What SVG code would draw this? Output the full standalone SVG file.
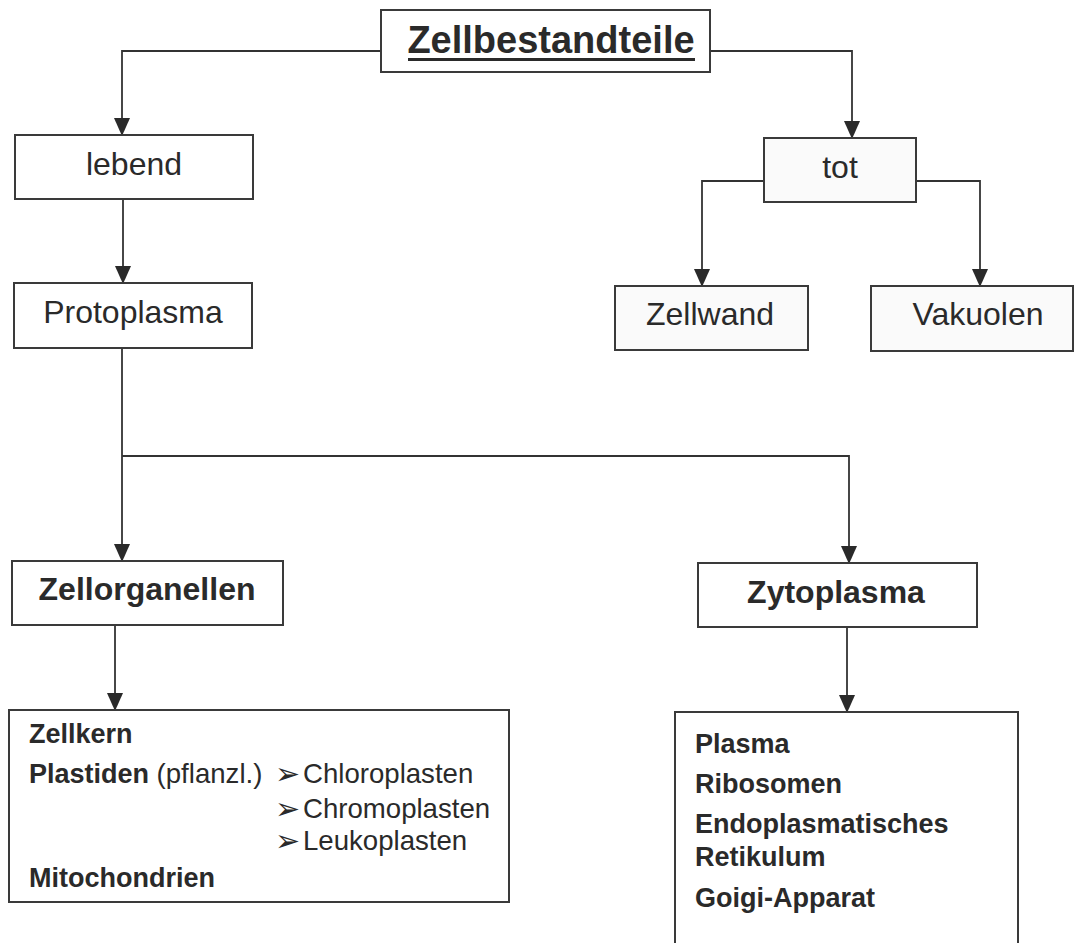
<svg xmlns="http://www.w3.org/2000/svg" width="1078" height="943" viewBox="0 0 1078 943">
<style>
.box{fill:#fff;stroke:#3a3a3a;stroke-width:2}
.tex{fill:#fafafa;stroke:#3a3a3a;stroke-width:2}
.t{font-family:"Liberation Sans",Arial,sans-serif;fill:#2a2a2a}
.n{font-size:32px}
.b{font-weight:bold}
.s{font-size:27px}
.r{font-size:27.6px}
.ar{font-size:30px}
.c{stroke:#333;stroke-width:1.8;fill:none;marker-end:url(#ah)}
</style>
<defs>
<marker id="ah" markerUnits="userSpaceOnUse" markerWidth="18" markerHeight="16" viewBox="0 0 18 16" refX="17" refY="8" orient="auto">
<path d="M0,0 L18,8 L0,16 Z" fill="#2a2a2a"/>
</marker>
</defs>
<rect width="1078" height="943" fill="#fff"/>
<g id="connectors">
<path class="c" d="M381,51 H122 V135"/>
<path class="c" d="M710,51 H852 V138"/>
<path class="c" d="M123,199 V283"/>
<path class="c" d="M764,181 H702 V286"/>
<path class="c" d="M916,181 H980 V286"/>
<path class="c" d="M122,348 V561"/>
<path class="c" d="M122,456 H849 V563"/>
<path class="c" d="M115,625 V710"/>
<path class="c" d="M847,627 V712"/>
</g>
<g id="zellbestandteile">
<rect class="box" x="381" y="10" width="329" height="62"/>
<text class="t b" x="551" y="53" font-size="38" text-anchor="middle">Zellbestandteile</text>
<rect x="408" y="58" width="287" height="3" fill="#2a2a2a"/>
</g>
<g id="lebend">
<rect class="box" x="15" y="135" width="238" height="64"/>
<text class="t n" x="134" y="175" text-anchor="middle">lebend</text>
</g>
<g id="protoplasma">
<rect class="box" x="14" y="283" width="238" height="65"/>
<text class="t n" x="133" y="323" text-anchor="middle">Protoplasma</text>
</g>
<g id="tot">
<rect class="tex" x="764" y="138" width="152" height="64"/>
<text class="t n" x="840" y="178" text-anchor="middle">tot</text>
</g>
<g id="zellwand">
<rect class="tex" x="615" y="286" width="193" height="64"/>
<text class="t n" x="710" y="325" text-anchor="middle">Zellwand</text>
</g>
<g id="vakuolen">
<rect class="tex" x="871" y="286" width="202" height="65"/>
<text class="t n" x="978" y="325" text-anchor="middle">Vakuolen</text>
</g>
<g id="zellorganellen">
<rect class="box" x="12" y="561" width="271" height="64"/>
<text class="t n b" x="147" y="600" text-anchor="middle">Zellorganellen</text>
</g>
<g id="zytoplasma">
<rect class="box" x="698" y="563" width="279" height="64"/>
<text class="t n b" x="836" y="603" text-anchor="middle">Zytoplasma</text>
</g>
<g id="organellen-liste">
<rect class="box" x="9" y="710" width="500" height="192"/>
<text class="t s b" x="29" y="743">Zellkern</text>
<text class="t s" x="29" y="783"><tspan font-weight="bold">Plastiden</tspan> <tspan class="r">(pflanzl.)</tspan></text>
<text class="t ar" x="275" y="784">➢</text>
<text class="t r" x="303" y="783">Chloroplasten</text>
<text class="t ar" x="275" y="819">➢</text>
<text class="t r" x="303" y="818">Chromoplasten</text>
<text class="t ar" x="275" y="851">➢</text>
<text class="t r" x="303" y="850">Leukoplasten</text>
<text class="t s b" x="29" y="887">Mitochondrien</text>
</g>
<g id="zytoplasma-liste">
<rect class="box" x="675" y="712" width="343" height="250"/>
<text class="t s b" x="695" y="753">Plasma</text>
<text class="t s b" x="695" y="793">Ribosomen</text>
<text class="t s b" x="695" y="833">Endoplasmatisches</text>
<text class="t s b" x="695" y="866">Retikulum</text>
<text class="t s b" x="695" y="907">Goigi-Apparat</text>
</g>
</svg>
